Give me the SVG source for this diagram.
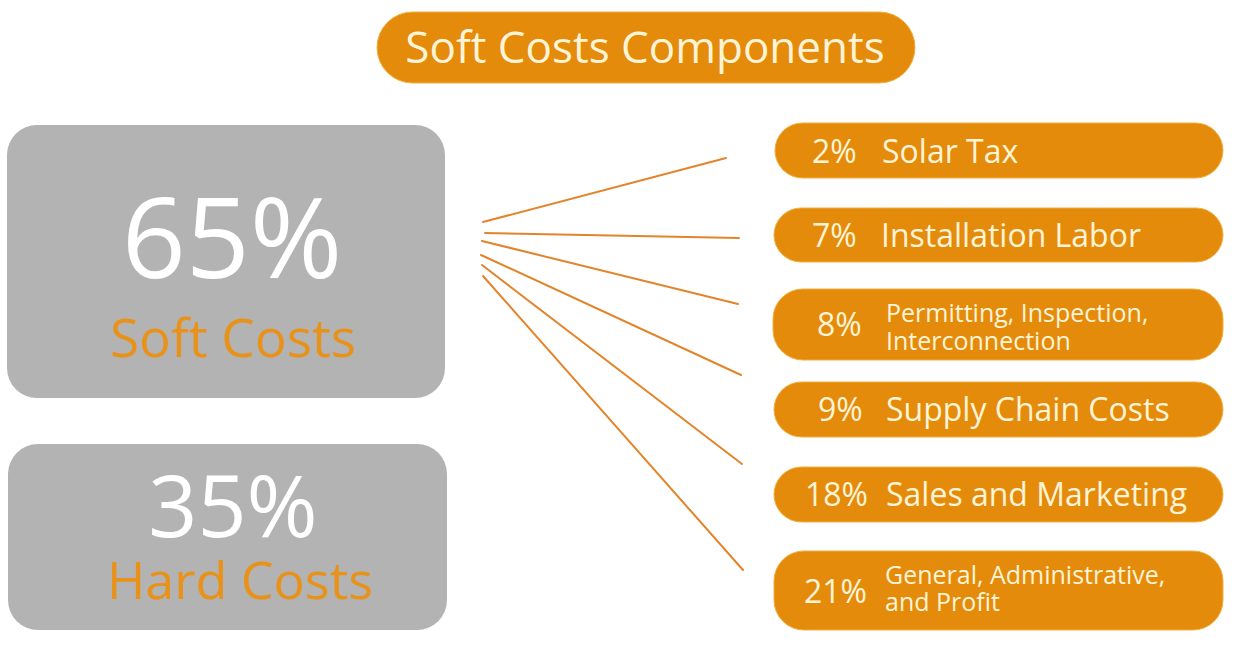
<svg xmlns="http://www.w3.org/2000/svg" width="1240" height="650" viewBox="0 0 1240 650">
<style>
.pill{fill:#E48B0B;stroke:#F0B040;stroke-width:1}
.box{fill:#B3B3B3}
.t{font-family:"Open Sans","Noto Sans","DejaVu Sans",sans-serif;fill:#FFF4D6}
.big{font-family:"Open Sans","Noto Sans","DejaVu Sans",sans-serif;fill:#FFFFFF}
.or{font-family:"Open Sans","Noto Sans","DejaVu Sans",sans-serif;fill:#E8921A}
.con line{stroke:#E4842A;stroke-width:2;stroke-linecap:round}
</style>
<rect width="1240" height="650" fill="#FFFFFF"/>
<g id="title">
<rect class="pill" x="377" y="12" width="538" height="71" rx="35.5"/>
<text class="t" x="645" y="63" font-size="44" text-anchor="middle">Soft Costs Components</text>
</g>
<g id="soft">
<rect class="box" x="7" y="125" width="438" height="273" rx="30"/>
<text class="big" x="232" y="278" font-size="112" text-anchor="middle">65%</text>
<text class="or" x="233" y="357" font-size="53" text-anchor="middle">Soft Costs</text>
</g>
<g id="hard">
<rect class="box" x="8" y="444" width="439" height="186" rx="30"/>
<text class="big" x="233" y="537" font-size="86" text-anchor="middle">35%</text>
<text class="or" x="240" y="599" font-size="52" text-anchor="middle">Hard Costs</text>
</g>
<g class="con" id="connectors">
<line x1="483" y1="222" x2="726" y2="158"/>
<line x1="485" y1="233" x2="739" y2="238"/>
<line x1="482" y1="241" x2="738" y2="304"/>
<line x1="481" y1="255" x2="741" y2="375"/>
<line x1="482" y1="265" x2="742" y2="464"/>
<line x1="483" y1="276" x2="743" y2="570"/>
</g>
<g id="c1">
<rect class="pill" x="775" y="123" width="448" height="55" rx="27.5"/>
<text class="t" x="812" y="163" font-size="32">2%</text>
<text class="t" x="882" y="163" font-size="32">Solar Tax</text>
</g>
<g id="c2">
<rect class="pill" x="774" y="208" width="449" height="54" rx="27"/>
<text class="t" x="812" y="247" font-size="32">7%</text>
<text class="t" x="881" y="247" font-size="32">Installation Labor</text>
</g>
<g id="c3">
<rect class="pill" x="773" y="289" width="450" height="71" rx="30"/>
<text class="t" x="817" y="336" font-size="32">8%</text>
<text class="t" x="886" y="322" font-size="25">Permitting, Inspection,</text>
<text class="t" x="886" y="350" font-size="25">Interconnection</text>
</g>
<g id="c4">
<rect class="pill" x="774" y="382" width="449" height="55" rx="27.5"/>
<text class="t" x="818" y="421" font-size="32">9%</text>
<text class="t" x="886" y="421" font-size="32">Supply Chain Costs</text>
</g>
<g id="c5">
<rect class="pill" x="774" y="467" width="449" height="55" rx="27.5"/>
<text class="t" x="805" y="506" font-size="32">18%</text>
<text class="t" x="886" y="506" font-size="32">Sales and Marketing</text>
</g>
<g id="c6">
<rect class="pill" x="774" y="551" width="449" height="79" rx="30"/>
<text class="t" x="804" y="603" font-size="32">21%</text>
<text class="t" x="885" y="584" font-size="25">General, Administrative,</text>
<text class="t" x="885" y="611" font-size="25">and Profit</text>
</g>
</svg>
